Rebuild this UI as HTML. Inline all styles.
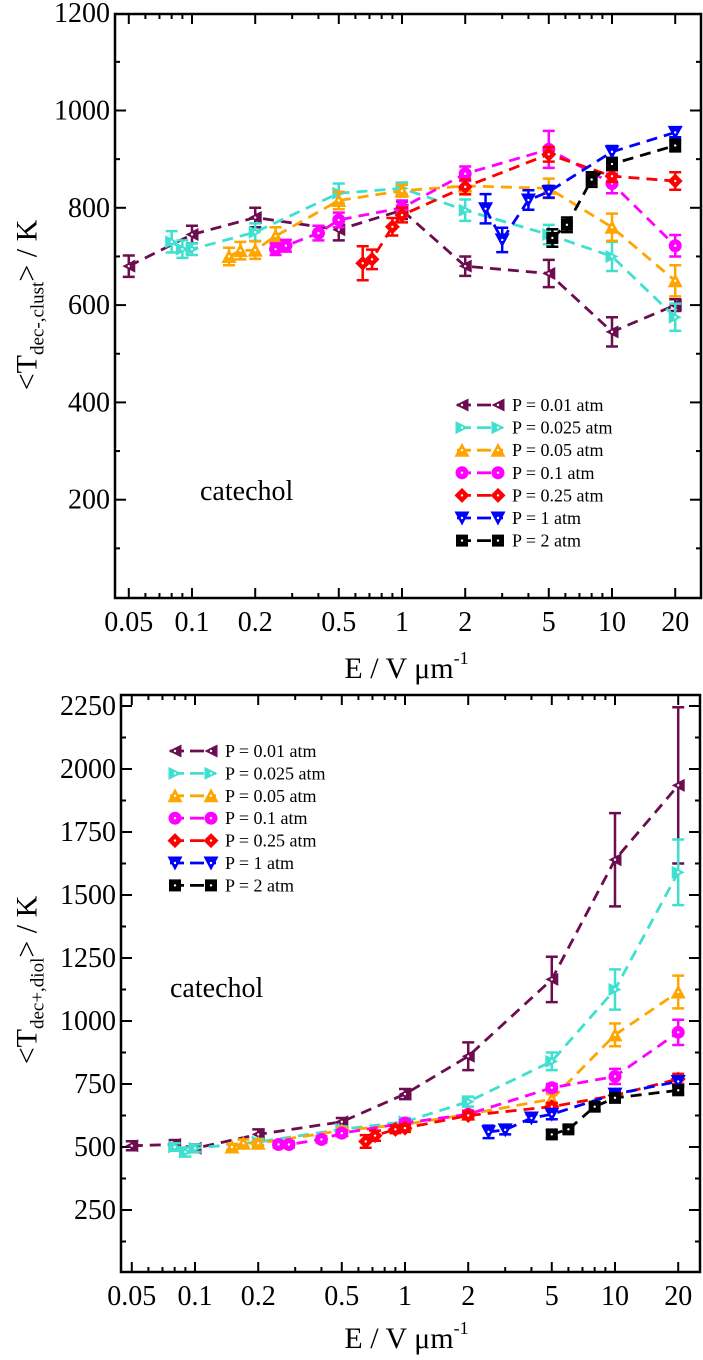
<!DOCTYPE html>
<html><head><meta charset="utf-8"><style>
body{margin:0;background:#fff;}
svg{display:block;}
svg text{font-family:"Liberation Serif",serif;}
</style></head><body>
<svg id="chart" width="703" height="1360" viewBox="0 0 703 1360" xmlns="http://www.w3.org/2000/svg" font-family="Liberation Serif, serif"></svg>
<script>
// ---------- data ----------
const seriesNames = ["P = 0.01 atm","P = 0.025 atm","P = 0.05 atm","P = 0.1 atm","P = 0.25 atm","P = 1 atm","P = 2 atm"];
const seriesColors = ["#6b0d4f","#40e0d0","#ffa500","#ff00ff","#ff0000","#0000ff","#000000"];
const seriesMarkers = ["tl","tr","tu","ci","di","td","sq"];

const topE0 = [0.05,0.1,0.2,0.5,1,2,5,10,20];
const topV0 = [680,745,780,755,795,680,665,545,600];
const topErr0 = [22,18,20,22,18,20,28,30,12];
const topE1 = [0.08,0.09,0.1,0.2,0.5,1,2,5,10,20];
const topV1 = [730,715,715,750,830,840,795,745,700,575];
const topErr1 = [22,18,12,18,20,12,22,20,30,28];
const topE2 = [0.15,0.17,0.2,0.25,0.5,1,2,5,10,20];
const topV2 = [700,712,713,742,815,835,845,840,760,650];
const topErr2 = [18,18,18,18,18,12,18,20,28,32];
const topE3 = [0.25,0.28,0.4,0.5,1,2,5,10,20];
const topV3 = [715,722,748,775,800,870,920,850,722];
const topErr3 = [12,12,15,15,15,15,38,20,22];
const topE4 = [0.65,0.72,0.9,1,2,5,10,20];
const topV4 = [686,694,761,785,843,910,865,855];
const topErr4 = [35,20,18,15,15,15,12,18];
const topE5 = [2.5,3,4,5,10,20];
const topV5 = [798,734,816,833,915,955];
const topErr5 = [30,25,20,12,12,10];
const topE6 = [5.2,6.1,8,10,20];
const topV6 = [738,765,858,890,928];
const topErr6 = [18,15,15,12,12];

const botE0 = [0.05,0.08,0.1,0.2,0.5,1,2,5,10,20];
const botV0 = [505,510,495,550,600,710,860,1165,1640,1935];
const botErr0 = [18,18,15,20,15,20,55,90,185,310];
const botE1 = [0.08,0.09,0.1,0.2,0.5,1,2,5,10,20];
const botV1 = [500,480,495,520,570,600,680,840,1125,1590];
const botErr1 = [15,18,15,12,12,15,20,35,80,130];
const botE2 = [0.15,0.17,0.2,0.5,1,2,5,10,20];
const botV2 = [500,515,515,565,590,630,690,945,1115];
const botErr2 = [12,15,12,12,15,12,20,45,65];
const botE3 = [0.25,0.28,0.4,0.5,1,2,5,10,20];
const botV3 = [510,510,530,555,595,630,735,780,955];
const botErr3 = [12,12,12,12,12,15,15,30,50];
const botE4 = [0.65,0.72,0.9,1,2,5,10,20];
const botV4 = [522,545,570,575,625,660,705,770];
const botErr4 = [25,20,15,15,15,15,15,20];
const botE5 = [2.5,3,4,5,10,20];
const botV5 = [560,568,615,630,710,760];
const botErr5 = [25,18,15,20,15,15];
const botE6 = [5,6,8,10,20];
const botV6 = [550,570,660,695,725];
const botErr6 = [15,12,15,15,15];

const xMajor = [0.05,0.1,0.2,0.5,1,2,5,10,20];
const xMajorLabels = ["0.05","0.1","0.2","0.5","1","2","5","10","20"];
const topYTicks = [200,400,600,800,1000,1200];
const topYLabels = ["200","400","600","800","1000","1200"];
const botYTicks = [250,500,750,1000,1250,1500,1750,2000,2250];
const botYLabels = ["250","500","750","1000","1250","1500","1750","2000","2250"];

// ---------- drawing ----------
const NS="http://www.w3.org/2000/svg";
const svg=document.getElementById('chart');
const FF='"Liberation Serif", serif';
function mk(tag,attrs,parent){const e=document.createElementNS(NS,tag);for(const k in attrs)e.setAttribute(k,attrs[k]);if(tag==='text')e.style.fontFamily=FF;(parent||svg).appendChild(e);return e;}

function panel(cfg){
  const g=mk('g',{});
  
  
  const X=e=>cfg.x1+cfg.dec*Math.log10(e);
  const Y=v=>cfg.y0-cfg.k*v;
  const fr=mk('rect',{x:cfg.L,y:cfg.T,width:cfg.R-cfg.L,height:cfg.B-cfg.T,fill:'none',stroke:'#000','stroke-width':2.5},g);
  
  
  for(let d=-2;d<=1;d++){for(let m=1;m<=9;m++){const e=m*Math.pow(10,d);const x=X(e);if(x<cfg.L+2||x>cfg.R-2)continue;
    const major=xMajor.some(v=>Math.abs(v-e)<1e-9);const len=major?10:5;
    mk('line',{x1:x,x2:x,y1:cfg.B,y2:cfg.B-len,stroke:'#000','stroke-width':2},g);
    mk('line',{x1:x,x2:x,y1:cfg.T,y2:cfg.T+len,stroke:'#000','stroke-width':2},g);}}
  xMajor.forEach((e,i)=>{const t=mk('text',{x:X(e),y:cfg.B+33,'font-size':28,'text-anchor':'middle'},g);t.textContent=xMajorLabels[i];
    
    });
  const st=cfg.yt[1]-cfg.yt[0];
  for(let v=st/2;v<=cfg.ymax;v+=st/2){const y=Y(v);if(y<cfg.T+1)continue;const major=Math.abs(v/st-Math.round(v/st))<1e-6;const len=major?11:5;
    mk('line',{x1:cfg.L,x2:cfg.L+len,y1:y,y2:y,stroke:'#000','stroke-width':2},g);
    mk('line',{x1:cfg.R,x2:cfg.R-len,y1:y,y2:y,stroke:'#000','stroke-width':2},g);}
  cfg.yt.forEach((v,i)=>{const t=mk('text',{x:cfg.L-5,y:Y(v)+9,'font-size':28,'text-anchor':'end'},g);t.textContent=cfg.yl[i];
    
    });
  cfg.series.forEach((s,i)=>{
    const sg=mk('g',{},g);
    
    
    const c=seriesColors[i];
    const pts=s.E.map((e,j)=>[X(e),Y(s.V[j])]);
    const pl=mk('polyline',{points:pts.map(p=>p.join(',')).join(' '),fill:'none',stroke:c,'stroke-width':2.8,'stroke-dasharray':'11,7'},sg);
    
    
    s.E.forEach((e,j)=>{const x=X(e),y1=Y(s.V[j]+s.Er[j]),y2=Y(s.V[j]-s.Er[j]);
      const eb=mk('path',{d:`M${x},${y1}V${y2}M${x-6},${y1}H${x+6}M${x-6},${y2}H${x+6}`,stroke:c,'stroke-width':2.5,fill:'none'},sg);
      
      
      const m=marker(seriesMarkers[i],x,Y(s.V[j]),c,sg);
      
      });
  });
  seriesNames.forEach((n,i)=>{const y=cfg.legY+i*cfg.legDy;const lg=mk('g',{},g);
    
    
    mk('line',{x1:cfg.legX,x2:cfg.legX+46,y1:y,y2:y,stroke:seriesColors[i],'stroke-width':2.8,'stroke-dasharray':'14,6'},lg);
    marker(seriesMarkers[i],cfg.legX+5,y,seriesColors[i],lg);marker(seriesMarkers[i],cfg.legX+41,y,seriesColors[i],lg);
    const t=mk('text',{x:cfg.legX+55,y:y+6,'font-size':18},lg);t.textContent=n;});
  const ct=mk('text',{x:cfg.catX,y:cfg.catY,'font-size':28},g);ct.textContent='catechol';
  
  
}
function marker(type,x,y,c,p){const r=6.5;let e;
  const g=mk('g',{},p);
  if(type==='ci')e=mk('circle',{cx:x,cy:y,r:r,fill:c},g);
  else if(type==='sq')e=mk('rect',{x:x-r+0.5,y:y-r+0.5,width:2*r-1,height:2*r-1,fill:c},g);
  else{let pts;
    if(type==='tl')pts=[[x-r,y],[x+r,y-r],[x+r,y+r]];
    if(type==='tr')pts=[[x+r,y],[x-r,y-r],[x-r,y+r]];
    if(type==='tu')pts=[[x,y-r-1],[x-r-1,y+r],[x+r+1,y+r]];
    if(type==='td')pts=[[x,y+r+1],[x-r-1,y-r],[x+r+1,y-r]];
    if(type==='di')pts=[[x,y-r-1],[x+r+1,y],[x,y+r+1],[x-r-1,y]];
    e=mk('polygon',{points:pts.map(q=>q.join(',')).join(' '),fill:c},g);}
  mk('circle',{cx:x,cy:y,r:1.2,fill:'#fff'},g);
  return g;}

panel({name:'top-panel',L:115,R:701,T:14,B:598,x1:402,dec:210,y0:597,k:0.4865,ymax:1200,yt:topYTicks,yl:topYLabels,
  legX:457,legY:405,legDy:22.6,catX:200,catY:500,
  series:[{E:topE0,V:topV0,Er:topErr0},{E:topE1,V:topV1,Er:topErr1},{E:topE2,V:topV2,Er:topErr2},{E:topE3,V:topV3,Er:topErr3},{E:topE4,V:topV4,Er:topErr4},{E:topE5,V:topV5,Er:topErr5},{E:topE6,V:topV6,Er:topErr6}]});
panel({name:'bottom-panel',L:121,R:700,T:695,B:1272,x1:405,dec:210,y0:1273,k:0.252,ymax:2290,yt:botYTicks,yl:botYLabels,
  legX:170,legY:751,legDy:22.4,catX:170,catY:997,
  series:[{E:botE0,V:botV0,Er:botErr0},{E:botE1,V:botV1,Er:botErr1},{E:botE2,V:botV2,Er:botErr2},{E:botE3,V:botV3,Er:botErr3},{E:botE4,V:botV4,Er:botErr4},{E:botE5,V:botV5,Er:botErr5},{E:botE6,V:botV6,Er:botErr6}]});
</script>
<div style="position:absolute;left:0;top:0;width:703px;height:1360px;pointer-events:none;font-family:'Liberation Serif',serif;">
  <div style="position:absolute;left:0;width:703px;top:648px;text-align:center;font-size:30px;padding-left:110px;box-sizing:border-box;">E / V μm<sup style="font-size:18px;vertical-align:14px;">-1</sup></div>
  <div style="position:absolute;left:0;width:703px;top:1318px;text-align:center;font-size:30px;padding-left:110px;box-sizing:border-box;">E / V μm<sup style="font-size:18px;vertical-align:14px;">-1</sup></div>
  <div style="position:absolute;left:30px;top:305px;transform:translate(-50%,-50%) rotate(-90deg);white-space:nowrap;font-size:30px;">&lt;T<sub style="font-size:19px;">dec-,clust</sub>&gt; / K</div>
  <div style="position:absolute;left:30px;top:980px;transform:translate(-50%,-50%) rotate(-90deg);white-space:nowrap;font-size:30px;">&lt;T<sub style="font-size:19px;">dec+,diol</sub>&gt; / K</div>
</div>
</body></html>
